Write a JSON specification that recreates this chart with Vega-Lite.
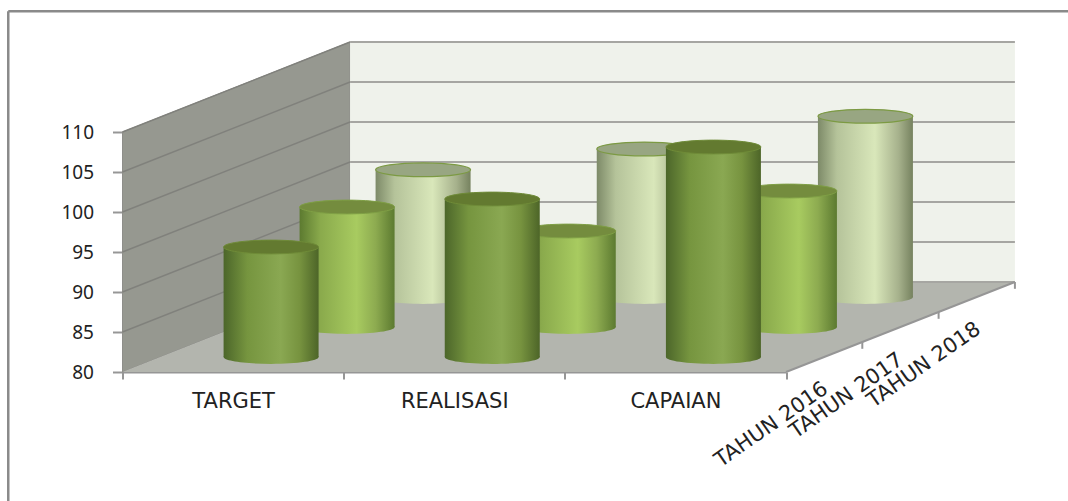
{
  "$schema": "https://vega.github.io/schema/vega-lite/v6.json",
  "width": 663.5,
  "height": 240,
  "padding": {"left": 122.5, "top": 132, "right": 282, "bottom": 129},
  "autosize": {"type": "none"},
  "background": "#ffffff",
  "config": {"view": {"stroke": null}},
  "datasets": {
    "cylinders": [
      {"indikator": "TARGET", "tahun": "TAHUN 2016", "nilai": 93.75},
      {"indikator": "REALISASI", "tahun": "TAHUN 2016", "nilai": 99.75},
      {"indikator": "CAPAIAN", "tahun": "TAHUN 2016", "nilai": 106.25},
      {"indikator": "TARGET", "tahun": "TAHUN 2017", "nilai": 95},
      {"indikator": "REALISASI", "tahun": "TAHUN 2017", "nilai": 92},
      {"indikator": "CAPAIAN", "tahun": "TAHUN 2017", "nilai": 97},
      {"indikator": "TARGET", "tahun": "TAHUN 2018", "nilai": 95.9},
      {"indikator": "REALISASI", "tahun": "TAHUN 2018", "nilai": 98.5},
      {"indikator": "CAPAIAN", "tahun": "TAHUN 2018", "nilai": 102.6}
    ],
    "sideWall": [
      {"a": 0, "lo": 80, "hi": 110},
      {"a": 1.029, "lo": 91.25, "hi": 121.25}
    ],
    "backWall": [
      {"a": 1.029, "a2": 4.035, "lo": 91.25, "hi": 121.25}
    ],
    "floor": [
      {"lv": 80, "a": 0, "a2": 3},
      {"lv": 91.25, "a": 1.029, "a2": 4.035}
    ],
    "frame": [
      {"a": -0.5165, "a2": -0.5165, "lv": 125.1, "lv2": 63.8},
      {"a": -0.5165, "a2": 4.29, "lv": 125.1, "lv2": 125.1}
    ],
    "sideLines": [
      {"a": 0, "a2": 1.029, "lv": 85, "lv2": 96.25},
      {"a": 0, "a2": 1.029, "lv": 90, "lv2": 101.25},
      {"a": 0, "a2": 1.029, "lv": 95, "lv2": 106.25},
      {"a": 0, "a2": 1.029, "lv": 100, "lv2": 111.25},
      {"a": 0, "a2": 1.029, "lv": 105, "lv2": 116.25},
      {"a": 0, "a2": 1.029, "lv": 110, "lv2": 121.25}
    ],
    "backLines": [
      {"a": 1.029, "a2": 4.035, "lv": 91.25, "lv2": 91.25},
      {"a": 1.029, "a2": 4.035, "lv": 96.25, "lv2": 96.25},
      {"a": 1.029, "a2": 4.035, "lv": 101.25, "lv2": 101.25},
      {"a": 1.029, "a2": 4.035, "lv": 106.25, "lv2": 106.25},
      {"a": 1.029, "a2": 4.035, "lv": 111.25, "lv2": 111.25},
      {"a": 1.029, "a2": 4.035, "lv": 116.25, "lv2": 116.25},
      {"a": 1.029, "a2": 4.035, "lv": 121.25, "lv2": 121.25}
    ],
    "depthAxis": [
      {"a": 3, "a2": 4.035, "lv": 80, "lv2": 91.25},
      {"a": 3.345, "a2": 3.345, "lv": 83.75, "lv2": 82.9},
      {"a": 3.69, "a2": 3.69, "lv": 87.5, "lv2": 86.65},
      {"a": 4.035, "a2": 4.035, "lv": 91.25, "lv2": 90.4}
    ],
    "depthLabels": [
      {"tahun": "TAHUN 2016", "a": 3.18, "lv": 78.15},
      {"tahun": "TAHUN 2017", "a": 3.52, "lv": 81.75},
      {"tahun": "TAHUN 2018", "a": 3.87, "lv": 85.6}
    ]
  },
  "resolve": {
    "scale": {"x": "independent"},
    "axis": {"x": "independent", "y": "independent"}
  },
  "layer": [
    {
      "data": {"name": "frame"},
      "mark": {"type": "rule", "stroke": "#8a8a8a", "strokeWidth": 2.5},
      "encoding": {
        "x": {"field": "a", "type": "quantitative", "axis": null, "scale": {"domain": [0, 3], "nice": false, "zero": false}},
        "x2": {"field": "a2"},
        "y": {"field": "lv", "type": "quantitative", "axis": null, "scale": {"domain": [80, 110], "nice": false, "zero": false}},
        "y2": {"field": "lv2"}
      }
    },
    {
      "data": {"name": "sideWall"},
      "mark": {"type": "area", "fill": "#969890", "opacity": 1, "stroke": "#8e8e8a", "strokeWidth": 1},
      "encoding": {
        "x": {"field": "a", "type": "quantitative", "axis": null, "scale": {"domain": [0, 3], "nice": false, "zero": false}},
        "y": {"field": "lo", "type": "quantitative", "axis": null, "scale": {"domain": [80, 110], "nice": false, "zero": false}},
        "y2": {"field": "hi"}
      }
    },
    {
      "data": {"name": "backWall"},
      "mark": {"type": "rect", "fill": "#eff2eb"},
      "encoding": {
        "x": {"field": "a", "type": "quantitative", "axis": null, "scale": {"domain": [0, 3], "nice": false, "zero": false}},
        "x2": {"field": "a2"},
        "y": {"field": "lo", "type": "quantitative", "axis": null, "scale": {"domain": [80, 110], "nice": false, "zero": false}},
        "y2": {"field": "hi"}
      }
    },
    {
      "data": {"name": "floor"},
      "mark": {"type": "area", "orient": "horizontal", "fill": "#b3b5ae", "opacity": 1},
      "encoding": {
        "y": {"field": "lv", "type": "quantitative", "axis": null, "scale": {"domain": [80, 110], "nice": false, "zero": false}},
        "x": {"field": "a", "type": "quantitative", "axis": null, "scale": {"domain": [0, 3], "nice": false, "zero": false}},
        "x2": {"field": "a2"}
      }
    },
    {
      "data": {"name": "sideLines"},
      "mark": {"type": "rule", "stroke": "#80817c", "strokeWidth": 1.5},
      "encoding": {
        "x": {"field": "a", "type": "quantitative", "axis": null, "scale": {"domain": [0, 3], "nice": false, "zero": false}},
        "x2": {"field": "a2"},
        "y": {"field": "lv", "type": "quantitative", "axis": null, "scale": {"domain": [80, 110], "nice": false, "zero": false}},
        "y2": {"field": "lv2"}
      }
    },
    {
      "data": {"name": "backLines"},
      "mark": {"type": "rule", "stroke": "#a6a6a2", "strokeWidth": 2},
      "encoding": {
        "x": {"field": "a", "type": "quantitative", "axis": null, "scale": {"domain": [0, 3], "nice": false, "zero": false}},
        "x2": {"field": "a2"},
        "y": {"field": "lv", "type": "quantitative", "axis": null, "scale": {"domain": [80, 110], "nice": false, "zero": false}},
        "y2": {"field": "lv2"}
      }
    },
    {
      "data": {"name": "depthAxis"},
      "mark": {"type": "rule", "stroke": "#969696", "strokeWidth": 2},
      "encoding": {
        "x": {"field": "a", "type": "quantitative", "axis": null, "scale": {"domain": [0, 3], "nice": false, "zero": false}},
        "x2": {"field": "a2"},
        "y": {"field": "lv", "type": "quantitative", "axis": null, "scale": {"domain": [80, 110], "nice": false, "zero": false}},
        "y2": {"field": "lv2"}
      }
    },
    {
      "data": {"name": "cylinders"},
      "transform": [{"filter": "datum.tahun === 'TAHUN 2018'"}],
      "mark": {"type": "point", "filled": true, "opacity": 1, "size": 9025, "shape": "M-1,0A1,0.145,0,1,0,1,0A1,0.145,0,1,0,-1,0Z", "xOffset": 190, "yOffset": -75,
        "fill": {"gradient": "linear", "x1": 0, "x2": 1, "y1": 0, "y2": 0, "stops": [{"offset": 0, "color": "#7d8a68"}, {"offset": 0.2, "color": "#b5c39a"}, {"offset": 0.6, "color": "#d9e7ba"}, {"offset": 0.85, "color": "#a6b18c"}, {"offset": 1, "color": "#76825f"}]}},
      "encoding": {
        "x": {"field": "indikator", "type": "nominal", "axis": null, "scale": {"type": "band", "domain": ["TARGET", "REALISASI", "CAPAIAN"], "padding": 0}},
        "y": {"datum": 80, "type": "quantitative", "axis": null, "scale": {"domain": [80, 110], "nice": false, "zero": false}}
      }
    },
    {
      "data": {"name": "cylinders"},
      "transform": [{"filter": "datum.tahun === 'TAHUN 2018'"}],
      "mark": {"type": "bar", "orient": "vertical", "width": 95, "xOffset": 190, "yOffset": -75, "y2Offset": -75,
        "fill": {"gradient": "linear", "x1": 0, "x2": 1, "y1": 0, "y2": 0, "stops": [{"offset": 0, "color": "#7d8a68"}, {"offset": 0.2, "color": "#b5c39a"}, {"offset": 0.6, "color": "#d9e7ba"}, {"offset": 0.85, "color": "#a6b18c"}, {"offset": 1, "color": "#76825f"}]}},
      "encoding": {
        "x": {"field": "indikator", "type": "nominal", "axis": null, "scale": {"type": "band", "domain": ["TARGET", "REALISASI", "CAPAIAN"], "padding": 0}},
        "y": {"field": "nilai", "type": "quantitative", "axis": null, "scale": {"domain": [80, 110], "nice": false, "zero": false}},
        "y2": {"datum": 80}
      }
    },
    {
      "data": {"name": "cylinders"},
      "transform": [{"filter": "datum.tahun === 'TAHUN 2018'"}],
      "mark": {"type": "point", "filled": true, "opacity": 1, "size": 9025, "shape": "M-1,0A1,0.145,0,1,0,1,0A1,0.145,0,1,0,-1,0Z", "xOffset": 190, "yOffset": -75, "fill": "#98a682", "stroke": "#7c9a43", "strokeWidth": 1.2},
      "encoding": {
        "x": {"field": "indikator", "type": "nominal", "axis": null, "scale": {"type": "band", "domain": ["TARGET", "REALISASI", "CAPAIAN"], "padding": 0}},
        "y": {"field": "nilai", "type": "quantitative", "axis": null, "scale": {"domain": [80, 110], "nice": false, "zero": false}}
      }
    },
    {
      "data": {"name": "cylinders"},
      "transform": [{"filter": "datum.tahun === 'TAHUN 2017'"}],
      "mark": {"type": "point", "filled": true, "opacity": 1, "size": 9025, "shape": "M-1,0A1,0.145,0,1,0,1,0A1,0.145,0,1,0,-1,0Z", "xOffset": 114, "yOffset": -45,
        "fill": {"gradient": "linear", "x1": 0, "x2": 1, "y1": 0, "y2": 0, "stops": [{"offset": 0, "color": "#5c7a30"}, {"offset": 0.22, "color": "#8aaa4c"}, {"offset": 0.6, "color": "#a8cb60"}, {"offset": 0.8, "color": "#8dab50"}, {"offset": 1, "color": "#5c7a30"}]}},
      "encoding": {
        "x": {"field": "indikator", "type": "nominal", "axis": null, "scale": {"type": "band", "domain": ["TARGET", "REALISASI", "CAPAIAN"], "padding": 0}},
        "y": {"datum": 80, "type": "quantitative", "axis": null, "scale": {"domain": [80, 110], "nice": false, "zero": false}}
      }
    },
    {
      "data": {"name": "cylinders"},
      "transform": [{"filter": "datum.tahun === 'TAHUN 2017'"}],
      "mark": {"type": "bar", "orient": "vertical", "width": 95, "xOffset": 114, "yOffset": -45, "y2Offset": -45,
        "fill": {"gradient": "linear", "x1": 0, "x2": 1, "y1": 0, "y2": 0, "stops": [{"offset": 0, "color": "#5c7a30"}, {"offset": 0.22, "color": "#8aaa4c"}, {"offset": 0.6, "color": "#a8cb60"}, {"offset": 0.8, "color": "#8dab50"}, {"offset": 1, "color": "#5c7a30"}]}},
      "encoding": {
        "x": {"field": "indikator", "type": "nominal", "axis": null, "scale": {"type": "band", "domain": ["TARGET", "REALISASI", "CAPAIAN"], "padding": 0}},
        "y": {"field": "nilai", "type": "quantitative", "axis": null, "scale": {"domain": [80, 110], "nice": false, "zero": false}},
        "y2": {"datum": 80}
      }
    },
    {
      "data": {"name": "cylinders"},
      "transform": [{"filter": "datum.tahun === 'TAHUN 2017'"}],
      "mark": {"type": "point", "filled": true, "opacity": 1, "size": 9025, "shape": "M-1,0A1,0.145,0,1,0,1,0A1,0.145,0,1,0,-1,0Z", "xOffset": 114, "yOffset": -45, "fill": "#748c3e", "stroke": "#7f9f45", "strokeWidth": 1},
      "encoding": {
        "x": {"field": "indikator", "type": "nominal", "axis": null, "scale": {"type": "band", "domain": ["TARGET", "REALISASI", "CAPAIAN"], "padding": 0}},
        "y": {"field": "nilai", "type": "quantitative", "axis": null, "scale": {"domain": [80, 110], "nice": false, "zero": false}}
      }
    },
    {
      "data": {"name": "cylinders"},
      "transform": [{"filter": "datum.tahun === 'TAHUN 2016'"}],
      "mark": {"type": "point", "filled": true, "opacity": 1, "size": 9025, "shape": "M-1,0A1,0.145,0,1,0,1,0A1,0.145,0,1,0,-1,0Z", "xOffset": 38, "yOffset": -15,
        "fill": {"gradient": "linear", "x1": 0, "x2": 1, "y1": 0, "y2": 0, "stops": [{"offset": 0, "color": "#4c662a"}, {"offset": 0.25, "color": "#76953f"}, {"offset": 0.6, "color": "#8aa852"}, {"offset": 0.8, "color": "#77933f"}, {"offset": 1, "color": "#4d6528"}]}},
      "encoding": {
        "x": {"field": "indikator", "type": "nominal", "axis": null, "scale": {"type": "band", "domain": ["TARGET", "REALISASI", "CAPAIAN"], "padding": 0}},
        "y": {"datum": 80, "type": "quantitative", "axis": null, "scale": {"domain": [80, 110], "nice": false, "zero": false}}
      }
    },
    {
      "data": {"name": "cylinders"},
      "transform": [{"filter": "datum.tahun === 'TAHUN 2016'"}],
      "mark": {"type": "bar", "orient": "vertical", "width": 95, "xOffset": 38, "yOffset": -15, "y2Offset": -15,
        "fill": {"gradient": "linear", "x1": 0, "x2": 1, "y1": 0, "y2": 0, "stops": [{"offset": 0, "color": "#4c662a"}, {"offset": 0.25, "color": "#76953f"}, {"offset": 0.6, "color": "#8aa852"}, {"offset": 0.8, "color": "#77933f"}, {"offset": 1, "color": "#4d6528"}]}},
      "encoding": {
        "x": {"field": "indikator", "type": "nominal", "axis": null, "scale": {"type": "band", "domain": ["TARGET", "REALISASI", "CAPAIAN"], "padding": 0}},
        "y": {"field": "nilai", "type": "quantitative", "axis": null, "scale": {"domain": [80, 110], "nice": false, "zero": false}},
        "y2": {"datum": 80}
      }
    },
    {
      "data": {"name": "cylinders"},
      "transform": [{"filter": "datum.tahun === 'TAHUN 2016'"}],
      "mark": {"type": "point", "filled": true, "opacity": 1, "size": 9025, "shape": "M-1,0A1,0.145,0,1,0,1,0A1,0.145,0,1,0,-1,0Z", "xOffset": 38, "yOffset": -15, "fill": "#637a30", "stroke": "#6f8b38", "strokeWidth": 1},
      "encoding": {
        "x": {"field": "indikator", "type": "nominal", "axis": null, "scale": {"type": "band", "domain": ["TARGET", "REALISASI", "CAPAIAN"], "padding": 0}},
        "y": {"field": "nilai", "type": "quantitative", "axis": null, "scale": {"domain": [80, 110], "nice": false, "zero": false}}
      }
    },
    {
      "data": {"name": "depthLabels"},
      "mark": {"type": "text", "angle": -35, "align": "right", "baseline": "middle", "font": "DejaVu Sans", "fontSize": 21, "fill": "#222222"},
      "encoding": {
        "x": {"field": "a", "type": "quantitative", "axis": null, "scale": {"domain": [0, 3], "nice": false, "zero": false}},
        "y": {"field": "lv", "type": "quantitative", "axis": null, "scale": {"domain": [80, 110], "nice": false, "zero": false}},
        "text": {"field": "tahun"}
      }
    },
    {
      "data": {"name": "cylinders"},
      "mark": {"type": "rule", "opacity": 0},
      "encoding": {
        "x": {"field": "indikator", "type": "nominal", "title": null, "scale": {"type": "band", "domain": ["TARGET", "REALISASI", "CAPAIAN"], "padding": 0},
          "axis": {"orient": "bottom", "tickBand": "extent", "labelAngle": 0, "labelFont": "DejaVu Sans", "labelFontSize": 21, "labelColor": "#222222", "labelPadding": 11, "tickSize": 7, "tickWidth": 2, "tickColor": "#969696", "domainColor": "#969696", "domainWidth": 2, "title": null}},
        "y": {"field": "nilai", "type": "quantitative", "title": null, "scale": {"domain": [80, 110], "nice": false, "zero": false},
          "axis": {"orient": "left", "values": [80, 85, 90, 95, 100, 105, 110], "labelFont": "Noto Sans", "labelFontSize": 19, "labelColor": "#222222", "labelPadding": 19, "tickSize": 10, "tickWidth": 2, "tickColor": "#969696", "domainColor": "#969696", "domainWidth": 2, "grid": false, "title": null}}
      }
    }
  ]
}
